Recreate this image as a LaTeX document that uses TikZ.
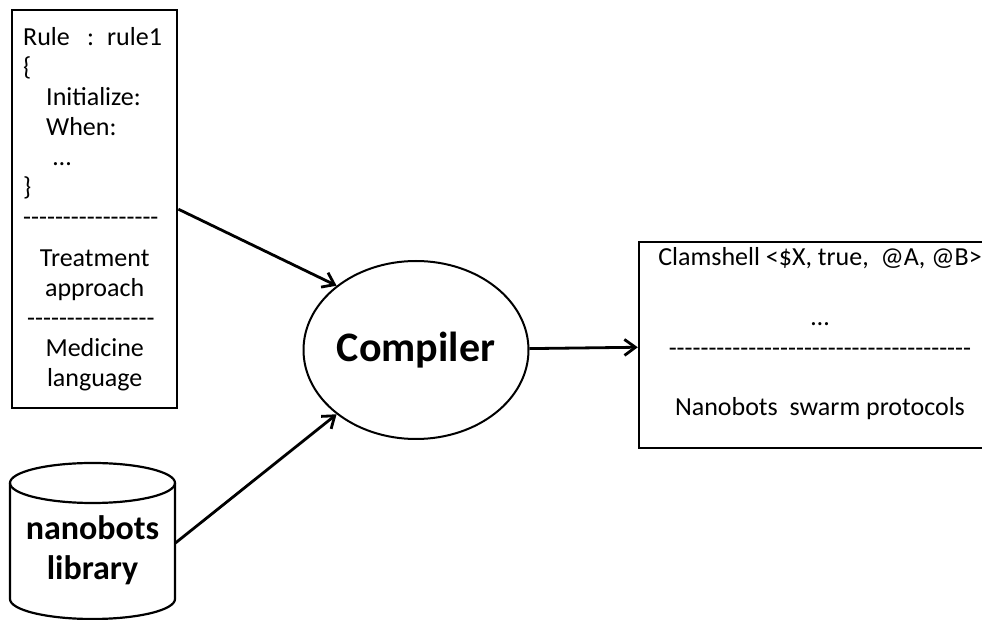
\documentclass[tikz,border=0pt]{standalone}
\usepackage{fontspec}
\setmainfont{Carlito}
\usetikzlibrary{shapes,arrows.meta,positioning,calc}

%% a row of hyphens that TeX must not join into dashes
\newcommand{\hyphenrow}[1]{\foreach \n in {1,...,#1}{-\kern0pt}}

\begin{document}
\begin{tikzpicture}[
  x=0.5pt, y=-0.5pt,
  codebox/.style={rectangle, draw=black, line width=1.2pt, fill=white,
    text width=71.5pt, inner xsep=5.5pt, inner ysep=0pt, minimum height=199pt,
    align=left, font=\fontsize{13}{15}\selectfont},
  outbox/.style={rectangle, draw=black, line width=1.2pt, fill=white,
    minimum width=181pt, minimum height=103pt, inner sep=0pt,
    align=center, font=\fontsize{13}{15}\selectfont},
  compbox/.style={ellipse, draw=black, line width=1pt, fill=white,
    minimum width=112.5pt, minimum height=89pt, inner sep=0pt,
    font=\fontsize{21}{25}\selectfont\bfseries},
  libtext/.style={rectangle, minimum width=82.5pt, inner sep=0pt,
    align=center, font=\fontsize{17}{20}\selectfont\bfseries},
  cylline/.style={draw=black, line width=1.1pt},
  arrow/.style={-{Straight Barb[length=5.5pt,width=8pt]}, line width=1.4pt},
]
\clip (0,0) rectangle (982,620);
%% ── Left: rule source ──
\node[codebox, anchor=north west] (rulebox) at (11,9) {%
  Rule\ \ : rule1\\
  \{\\
  \hspace*{11.5pt}Initialize:\\
  \hspace*{11.5pt}When:\\
  \hspace*{15pt}…\\
  \}\\
  \hyphenrow{17}\\[5.5pt]
  \makebox[71.5pt]{Treatment}\\
  \makebox[71.5pt]{approach}\\
  \hspace*{2pt}\hyphenrow{16}\\
  \makebox[71.5pt]{Medicine}\\
  \makebox[71.5pt]{language}};
%% ── Left bottom: library (cylinder drawn round the text) ──
\node[libtext] (nanolib) at (92.5,550) {nanobots\\library};
\draw[cylline] ($(nanolib.center)+(0,-67)$) ellipse[x radius=82.5, y radius=20];
\draw[cylline] ($(nanolib.center)+(-82.5,-67)$) -- ++(0,116)
  arc[start angle=180, end angle=0, x radius=82.5, y radius=20] -- ++(0,-116);
%% ── Middle: compiler ──
\node[compbox] (compiler) at (416,350) {Compiler};
%% ── Right: output ──
\node[outbox] (outbox) at (820,345) {%
  Clamshell <\$X, true,\ \ @A, @B>\\[15pt]
  …\\[0.5pt]
  \hyphenrow{38}\\[14.5pt]
  Nanobots\ \ swarm protocols\rule[-13.5pt]{0pt}{13.5pt}};

%% ── Arrows ──
\draw[arrow] (rulebox.east) -- (compiler.141);
\draw[arrow] ([yshift=3.5pt]nanolib.east) -- (compiler.219);
\draw[arrow] (compiler) -- (outbox);
\end{tikzpicture}
\end{document}
